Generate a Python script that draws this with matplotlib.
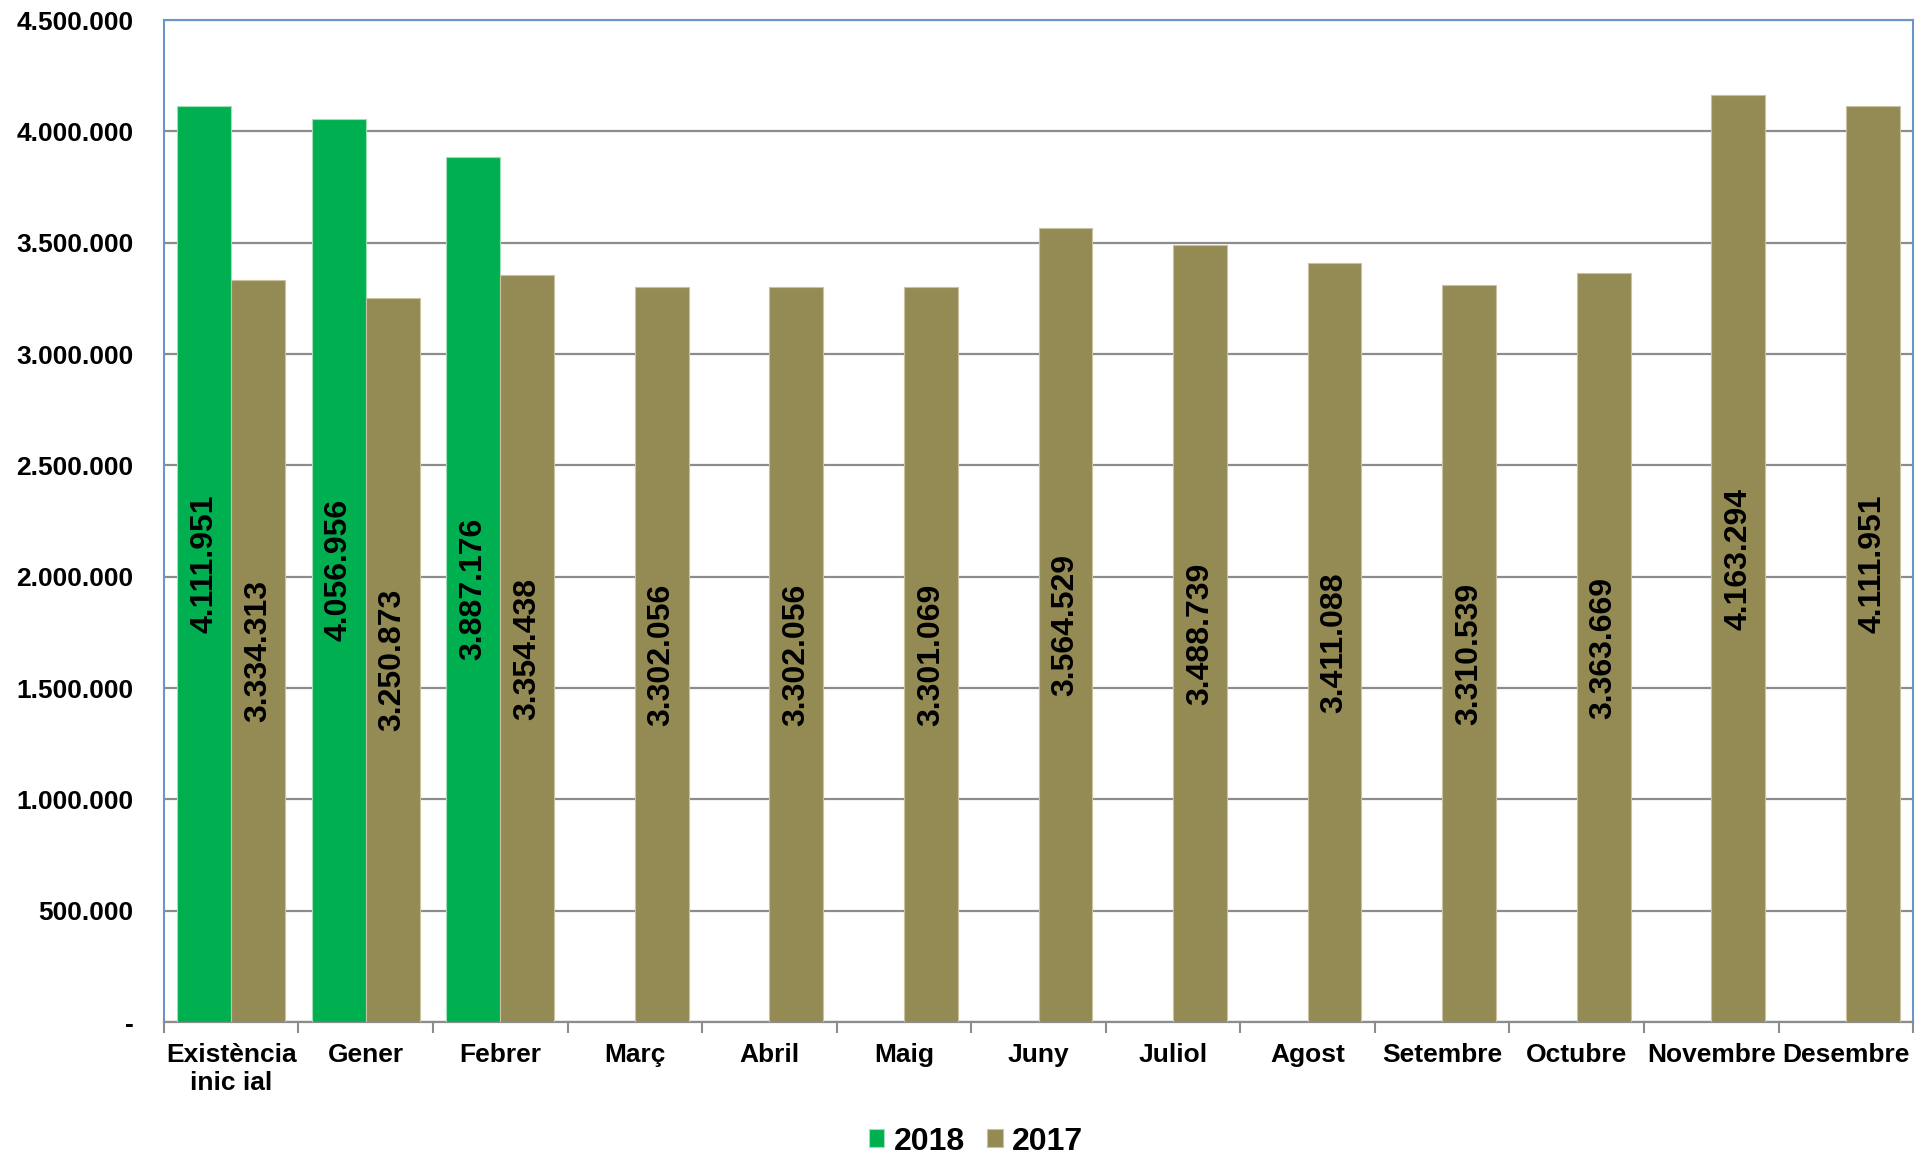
import numpy as np
import matplotlib.pyplot as plt
from matplotlib.ticker import FuncFormatter

plt.rcParams['font.family'] = ['Liberation Sans', 'DejaVu Sans']
plt.rcParams['font.weight'] = 'bold'

# data
categories = ['Existència\ninic ial', 'Gener', 'Febrer', 'Març', 'Abril', 'Maig',
              'Juny', 'Juliol', 'Agost', 'Setembre', 'Octubre', 'Novembre', 'Desembre']
values_2018 = [4111951, 4056956, 3887176]
values_2017 = [3334313, 3250873, 3354438, 3302056, 3302056, 3301069, 3564529,
               3488739, 3411088, 3310539, 3363669, 4163294, 4111951]

green = '#00B050'
olive = '#948A54'

def thousands(v, pos=None):
    if v == 0:
        return '-'
    return '{:,.0f}'.format(v).replace(',', '.')

fig = plt.figure(figsize=(19.33, 11.59), dpi=100)
ax = fig.add_axes([0.0848, 0.1182, 0.9049, 0.8645])

x = np.arange(len(categories))
w = 0.4
b18 = ax.bar(x[:len(values_2018)] - w/2, values_2018, w, color=green,
             edgecolor='#9FE0B8', linewidth=0.8, label='2018', zorder=3)
b17 = ax.bar(x + w/2, values_2017, w, color=olive,
             edgecolor='#C9C2A0', linewidth=0.8, label='2017', zorder=3)

for bars in (b18, b17):
    ax.bar_label(bars, labels=[thousands(b.get_height()) for b in bars],
                 label_type='center', rotation=90, fontsize=23,
                 fontweight='bold', color='black', zorder=4)

ax.set_xlim(-0.5, len(categories) - 0.5)
ax.set_ylim(0, 4500000)
ax.set_yticks(np.arange(0, 4500001, 500000))
ax.yaxis.set_major_formatter(FuncFormatter(thousands))
ax.yaxis.grid(True, color='#8C8C8C', linewidth=1.6, zorder=0)
ax.set_axisbelow(True)

ax.set_xticks(x)
ax.set_xticklabels(categories)
ax.set_xticks(np.arange(-0.5, len(categories)), minor=True)
ax.tick_params(axis='x', which='major', length=0, pad=15, labelsize=19)
ax.tick_params(axis='x', which='minor', length=8, width=1.5, color='#8C8C8C', direction='out')
ax.tick_params(axis='y', length=0, pad=22, labelsize=19)
for lab in ax.get_xticklabels() + ax.get_yticklabels():
    lab.set_fontweight('bold')

for side in ('left', 'top', 'right'):
    ax.spines[side].set_color('#6A95C8')
    ax.spines[side].set_linewidth(1.5)
ax.spines['bottom'].set_color('#8C8C8C')
ax.spines['bottom'].set_linewidth(1.6)

leg = fig.legend(handles=[b18, b17], loc='center', bbox_to_anchor=(0.505, 0.015),
                 ncol=2, frameon=False, handlelength=0.48,
                 handleheight=0.48, handletextpad=0.3, columnspacing=0.7,
                 prop={'weight': 'bold', 'size': 23})

fig.savefig('out.png', dpi=100)
